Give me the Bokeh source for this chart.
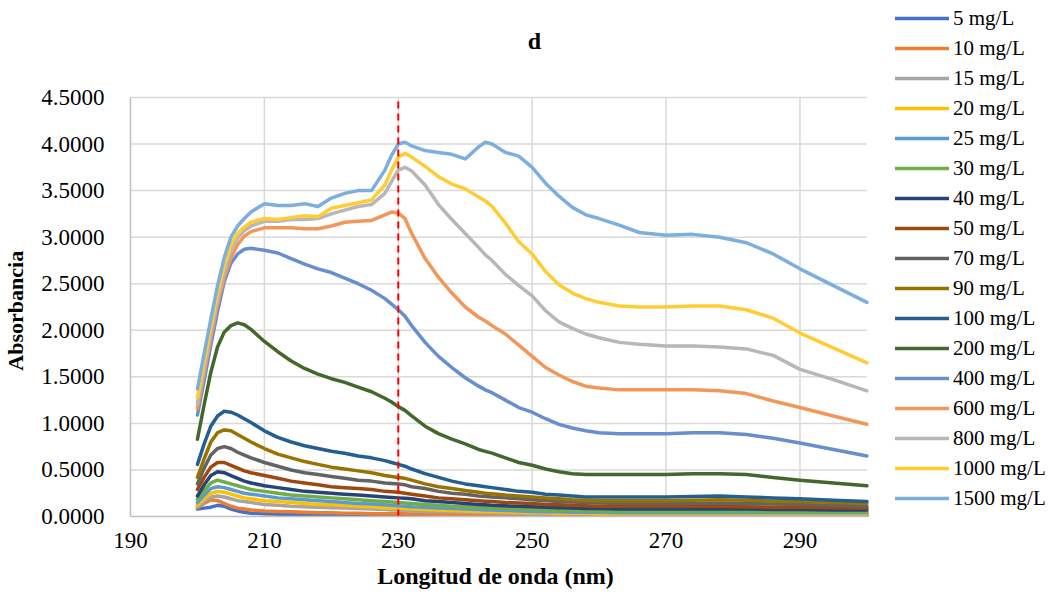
from bokeh.plotting import figure
from bokeh.models import Range1d, FixedTicker, NumeralTickFormatter, Legend, LegendItem, Label
from bokeh.embed import file_html
from bokeh.resources import INLINE

# Wavelength (nm)
X = [200, 201, 202, 203, 204, 205, 206, 207, 208,
     210, 212, 214, 216, 218, 220, 222, 224, 226, 228,
     229, 230, 231, 232,
     234, 236, 238, 240, 242,
     243, 244,
     246, 248, 250, 252, 254, 256, 258, 260,
     263, 266, 270, 274, 278, 282, 286, 290, 295, 300]

labels = ["5 mg/L", "10 mg/L", "15 mg/L", "20 mg/L", "25 mg/L", "30 mg/L", "40 mg/L",
          "50 mg/L", "70 mg/L", "90 mg/L", "100 mg/L", "200 mg/L", "400 mg/L",
          "600 mg/L", "800 mg/L", "1000 mg/L", "1500 mg/L"]

colors = ["#4472C4", "#ED7D31", "#A5A5A5", "#FFC000", "#5B9BD5", "#70AD47", "#264478",
          "#9E480E", "#636363", "#997300", "#255E91", "#43682B", "#698ED0",
          "#F1975A", "#B7B7B7", "#FFCD33", "#7CAFDD"]

s5 = [0.08, 0.09, 0.10, 0.12, 0.11, 0.08, 0.06, 0.045, 0.035,
      0.03, 0.025, 0.02, 0.02, 0.02, 0.018, 0.018, 0.016, 0.016, 0.015,
      0.015, 0.015, 0.015, 0.014,
      0.014, 0.013, 0.013, 0.012, 0.012,
      0.012, 0.012,
      0.012, 0.011, 0.011, 0.011, 0.011, 0.01, 0.01, 0.01,
      0.01, 0.01, 0.01, 0.01, 0.01, 0.01, 0.01, 0.01, 0.01, 0.01]
s10 = [0.095, 0.14, 0.18, 0.17, 0.14, 0.11, 0.09, 0.08, 0.07,
       0.06, 0.055, 0.05, 0.045, 0.04, 0.04, 0.035, 0.035, 0.03, 0.03,
       0.03, 0.03, 0.03, 0.028,
       0.026, 0.024, 0.022, 0.02, 0.02,
       0.02, 0.02,
       0.02, 0.018, 0.018, 0.018, 0.016, 0.016, 0.016, 0.016,
       0.015, 0.015, 0.015, 0.015, 0.015, 0.015, 0.015, 0.015, 0.015, 0.015]
s15 = [0.10, 0.16, 0.21, 0.22, 0.21, 0.19, 0.17, 0.16, 0.15,
       0.13, 0.12, 0.11, 0.105, 0.10, 0.095, 0.09, 0.085, 0.08, 0.075,
       0.07, 0.07, 0.065, 0.06,
       0.055, 0.05, 0.05, 0.045, 0.04,
       0.04, 0.04,
       0.035, 0.035, 0.03, 0.03, 0.03, 0.03, 0.03, 0.03,
       0.025, 0.025, 0.025, 0.025, 0.025, 0.025, 0.025, 0.025, 0.025, 0.025]
s20 = [0.12, 0.19, 0.25, 0.27, 0.26, 0.24, 0.22, 0.20, 0.19,
       0.17, 0.16, 0.15, 0.14, 0.13, 0.125, 0.12, 0.11, 0.105, 0.095,
       0.09, 0.09, 0.085, 0.08,
       0.075, 0.07, 0.065, 0.06, 0.055,
       0.055, 0.05,
       0.05, 0.045, 0.04, 0.04, 0.035, 0.035, 0.035, 0.03,
       0.03, 0.03, 0.03, 0.03, 0.03, 0.03, 0.03, 0.03, 0.03, 0.03]
s25 = [0.15, 0.23, 0.30, 0.32, 0.31, 0.29, 0.27, 0.25, 0.24,
       0.22, 0.20, 0.19, 0.18, 0.17, 0.16, 0.15, 0.14, 0.135, 0.125,
       0.12, 0.115, 0.11, 0.105,
       0.10, 0.09, 0.085, 0.08, 0.075,
       0.07, 0.07,
       0.065, 0.06, 0.055, 0.05, 0.05, 0.045, 0.045, 0.045,
       0.04, 0.04, 0.04, 0.04, 0.04, 0.04, 0.04, 0.04, 0.04, 0.04]
s30 = [0.185, 0.28, 0.36, 0.39, 0.37, 0.35, 0.33, 0.31, 0.29,
       0.27, 0.25, 0.23, 0.22, 0.21, 0.20, 0.19, 0.18, 0.17, 0.16,
       0.155, 0.15, 0.145, 0.14,
       0.13, 0.12, 0.11, 0.105, 0.10,
       0.095, 0.09,
       0.085, 0.08, 0.075, 0.07, 0.065, 0.065, 0.06, 0.06,
       0.055, 0.055, 0.055, 0.055, 0.055, 0.055, 0.05, 0.05, 0.05, 0.05]
s40 = [0.22, 0.34, 0.44, 0.48, 0.47, 0.44, 0.41, 0.38, 0.36,
       0.33, 0.31, 0.29, 0.27, 0.26, 0.25, 0.24, 0.23, 0.22, 0.21,
       0.205, 0.20, 0.195, 0.19,
       0.17, 0.16, 0.15, 0.14, 0.13,
       0.125, 0.12,
       0.115, 0.11, 0.105, 0.10, 0.095, 0.09, 0.085, 0.085,
       0.08, 0.08, 0.08, 0.08, 0.08, 0.08, 0.075, 0.075, 0.07, 0.07]
s50 = [0.29, 0.42, 0.53, 0.58, 0.58, 0.55, 0.52, 0.49, 0.47,
       0.44, 0.41, 0.38, 0.36, 0.34, 0.32, 0.31, 0.30, 0.29, 0.27,
       0.265, 0.26, 0.25, 0.24,
       0.22, 0.20, 0.19, 0.18, 0.17,
       0.165, 0.16,
       0.15, 0.145, 0.14, 0.13, 0.125, 0.12, 0.115, 0.11,
       0.11, 0.11, 0.11, 0.11, 0.11, 0.105, 0.10, 0.10, 0.095, 0.09]
s70 = [0.35, 0.52, 0.66, 0.73, 0.75, 0.73, 0.69, 0.66, 0.63,
       0.58, 0.54, 0.50, 0.47, 0.45, 0.43, 0.41, 0.39, 0.38, 0.36,
       0.355, 0.35, 0.34, 0.32,
       0.30, 0.27, 0.25, 0.24, 0.22,
       0.215, 0.21,
       0.20, 0.19, 0.18, 0.17, 0.16, 0.155, 0.15, 0.145,
       0.14, 0.14, 0.14, 0.14, 0.145, 0.14, 0.135, 0.13, 0.12, 0.11]
s90 = [0.42, 0.62, 0.80, 0.90, 0.93, 0.92, 0.88, 0.84, 0.80,
       0.73, 0.67, 0.63, 0.59, 0.56, 0.53, 0.51, 0.49, 0.47, 0.44,
       0.43, 0.42, 0.41, 0.39,
       0.35, 0.32, 0.30, 0.28, 0.26,
       0.25, 0.245,
       0.23, 0.22, 0.21, 0.20, 0.19, 0.18, 0.175, 0.17,
       0.17, 0.17, 0.17, 0.175, 0.18, 0.175, 0.165, 0.16, 0.15, 0.14]
s100 = [0.56, 0.78, 0.97, 1.08, 1.13, 1.12, 1.09, 1.05, 1.01,
        0.92, 0.85, 0.80, 0.76, 0.73, 0.70, 0.68, 0.65, 0.63, 0.60,
        0.58, 0.56, 0.54, 0.51,
        0.46, 0.42, 0.38, 0.35, 0.33,
        0.32, 0.31,
        0.29, 0.27, 0.26, 0.24, 0.23, 0.22, 0.21, 0.21,
        0.21, 0.21, 0.21, 0.215, 0.22, 0.21, 0.20, 0.19, 0.175, 0.16]
s200 = [0.83, 1.20, 1.55, 1.82, 1.98, 2.05, 2.08, 2.06, 2.01,
        1.88, 1.77, 1.67, 1.59, 1.53, 1.48, 1.44, 1.39, 1.34, 1.27,
        1.23, 1.18, 1.14, 1.08,
        0.97, 0.89, 0.83, 0.78, 0.72,
        0.70, 0.68,
        0.63, 0.58, 0.55, 0.51, 0.48, 0.46, 0.45, 0.45,
        0.45, 0.45, 0.45, 0.46, 0.46, 0.45, 0.42, 0.39, 0.36, 0.33]
s400 = [1.09, 1.46, 1.84, 2.20, 2.52, 2.72, 2.82, 2.87, 2.88,
        2.86, 2.83, 2.77, 2.71, 2.66, 2.62, 2.56, 2.50, 2.43, 2.34,
        2.28, 2.22, 2.15, 2.05,
        1.87, 1.72, 1.60, 1.49, 1.40,
        1.36, 1.33,
        1.25, 1.17, 1.12, 1.05, 0.99, 0.95, 0.92, 0.90,
        0.89, 0.89, 0.89, 0.90, 0.90, 0.88, 0.84, 0.79, 0.72, 0.65]
s600 = [1.16, 1.54, 1.92, 2.28, 2.57, 2.78, 2.92, 3.01, 3.06,
        3.10, 3.10, 3.10, 3.09, 3.09, 3.12, 3.16, 3.17, 3.18, 3.24,
        3.27, 3.26, 3.20, 3.04,
        2.77, 2.57, 2.40, 2.25, 2.14,
        2.10, 2.05,
        1.96, 1.84, 1.72, 1.60, 1.52, 1.45, 1.40, 1.38,
        1.36, 1.36, 1.36, 1.36, 1.35, 1.32, 1.24, 1.17, 1.08, 0.99]
s800 = [1.22, 1.60, 1.98, 2.34, 2.64, 2.86, 2.99, 3.07, 3.12,
        3.17, 3.17, 3.19, 3.19, 3.20, 3.25, 3.29, 3.33, 3.35, 3.47,
        3.60, 3.72, 3.75, 3.71,
        3.56, 3.35, 3.19, 3.04, 2.89,
        2.81, 2.75,
        2.60, 2.48, 2.37, 2.21, 2.09, 2.02, 1.96, 1.92,
        1.87, 1.85, 1.83, 1.83, 1.82, 1.80, 1.73, 1.58, 1.47, 1.35]
s1000 = [1.28, 1.66, 2.04, 2.40, 2.70, 2.92, 3.04, 3.11, 3.16,
         3.20, 3.19, 3.21, 3.23, 3.22, 3.31, 3.34, 3.37, 3.40, 3.56,
         3.72, 3.86, 3.90, 3.86,
         3.76, 3.65, 3.57, 3.52, 3.43,
         3.39, 3.33,
         3.15, 2.95, 2.82, 2.63, 2.49, 2.40, 2.34, 2.30,
         2.26, 2.25, 2.25, 2.26, 2.26, 2.22, 2.13, 1.97, 1.81, 1.65]
s1500 = [1.37, 1.75, 2.12, 2.48, 2.78, 3.00, 3.12, 3.20, 3.27,
         3.36, 3.34, 3.34, 3.36, 3.33, 3.42, 3.47, 3.50, 3.50, 3.72,
         3.88, 4.00, 4.02, 3.98,
         3.93, 3.91, 3.89, 3.84, 3.97,
         4.02, 4.00,
         3.91, 3.87, 3.75, 3.58, 3.44, 3.32, 3.24, 3.20,
         3.13, 3.05, 3.02, 3.03, 3.00, 2.94, 2.82, 2.66, 2.48, 2.30]

series = [s5, s10, s15, s20, s25, s30, s40, s50, s70, s90, s100, s200,
          s400, s600, s800, s1000, s1500]

x_ticks = [190, 210, 230, 250, 270, 290]
y_ticks = [0, 0.5, 1.0, 1.5, 2.0, 2.5, 3.0, 3.5, 4.0, 4.5]
x_min, x_max = 190, 300
y_min, y_max = 0, 4.5
marker_wavelength = 230

FONT = "Liberation Serif"
NBSP = "\u00a0"

# Layout (pixels): plot area 128..866 x 97..516; the drawing frame is extended to the
# right edge and the top so the legend and the title can live inside it.
W, H = 1052, 596
LEFT, RIGHT, TOP, BOTTOM = 128, 866, 97, 516
frame_w = W - LEFT
frame_h = BOTTOM
x_end = x_min + (x_max - x_min) * frame_w / (RIGHT - LEFT)
y_end = y_min + (y_max - y_min) * frame_h / (BOTTOM - TOP)

p = figure(width=W, height=H, output_backend="svg", toolbar_location=None, title=None,
           x_range=Range1d(x_min, x_end), y_range=Range1d(y_min, y_end),
           min_border_left=LEFT, min_border_right=0, min_border_top=0,
           min_border_bottom=H - BOTTOM, background_fill_color="white",
           border_fill_color="white")
p.outline_line_color = None
p.xgrid.visible = False
p.ygrid.visible = False

# grid lines limited to the plot area
gx = [t for t in x_ticks if t != x_min]
p.segment(x0=gx, y0=[y_min] * len(gx), x1=gx, y1=[y_max] * len(gx),
          line_color="#D9D9D9", line_width=1.5)
gy = [t for t in y_ticks if t != y_min]
p.segment(x0=[x_min] * len(gy), y0=gy, x1=[x_max] * len(gy), y1=gy,
          line_color="#D9D9D9", line_width=1.5)

p.xaxis.ticker = FixedTicker(ticks=x_ticks)
p.yaxis.ticker = FixedTicker(ticks=y_ticks)
p.xaxis.bounds = (x_min, x_max)
p.yaxis.bounds = (y_min, y_max)
p.yaxis.formatter = NumeralTickFormatter(format="0.0000")

for ax in (p.xaxis, p.yaxis):
    ax.axis_line_color = "#BFBFBF"
    ax.axis_line_width = 1.5
    ax.major_tick_line_color = None
    ax.minor_tick_line_color = None
    ax.major_label_text_font = FONT
    ax.major_label_text_font_size = "23px"
    ax.major_label_text_color = "black"
    ax.axis_label_text_font = FONT
    ax.axis_label_text_font_style = "bold"
    ax.axis_label_text_color = "black"

# axis labels: trailing no-break spaces re-centre them on the plot area
p.xaxis.axis_label = "Longitud de onda (nm)" + NBSP * 32
p.yaxis.axis_label = "Absorbancia" + NBSP * 19
p.xaxis.axis_label_text_font_size = "24px"
p.yaxis.axis_label_text_font_size = "22px"
p.xaxis.major_label_standoff = 10
p.xaxis.axis_label_standoff = 12
p.yaxis.major_label_standoff = 20
p.yaxis.axis_label_standoff = 10

items = []
for lab, col, ys in zip(labels, colors, series):
    r = p.line(X, ys, line_color=col, line_width=3.5, line_join="round", line_cap="round")
    items.append(LegendItem(label=lab, renderers=[r]))

# red dashed marker at 230 nm
p.segment(x0=[marker_wavelength], y0=[y_min], x1=[marker_wavelength], y1=[y_max],
          line_color="#FF0000", line_width=2, line_dash="7 5")

# title "d"
p.add_layout(Label(x=404, y=BOTTOM - 40, x_units="screen", y_units="screen", text="d",
                   text_align="center", text_baseline="middle", text_font=FONT,
                   text_font_style="bold", text_font_size="24px", text_color="black"))

legend = Legend(items=items, location=(893 - LEFT, BOTTOM - 3 - 17 * 30), orientation="vertical",
                glyph_width=54, glyph_height=30, label_height=30, spacing=0,
                padding=0, margin=0, label_standoff=4,
                label_text_font=FONT, label_text_font_size="21px",
                label_text_color="black", label_text_baseline="middle",
                border_line_color=None, background_fill_alpha=0)
p.add_layout(legend)

open("out.html", "w").write(file_html(p, INLINE))
